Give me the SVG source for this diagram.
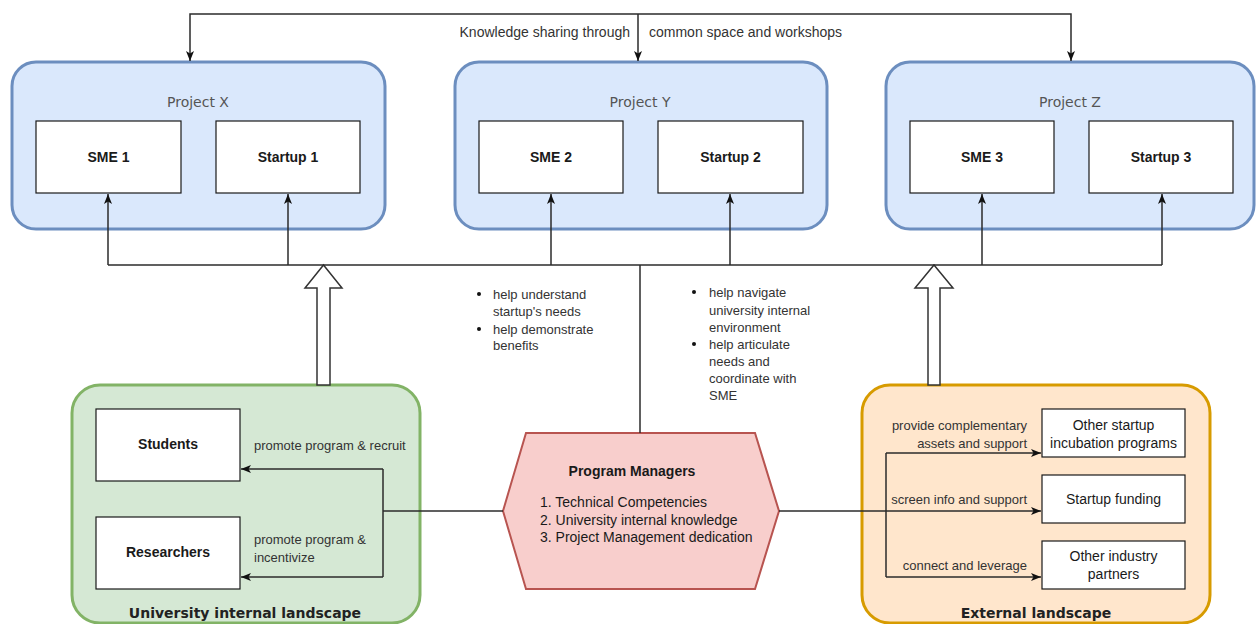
<svg xmlns="http://www.w3.org/2000/svg" width="1256" height="624" viewBox="0 0 1256 624">
  <style>
    .project { fill: #dae8fc; stroke: #6c8ebf; stroke-width: 3; }
    .box { fill: #ffffff; stroke: #1a1a1a; stroke-width: 1.2; }
    .green { fill: #d5e8d4; stroke: #82b366; stroke-width: 3; }
    .orange { fill: #ffe6cc; stroke: #d79b00; stroke-width: 3; }
    .hex { fill: #f8cecc; stroke: #b85450; stroke-width: 2; }
    .block { fill: #ffffff; stroke: #333333; stroke-width: 1.5; }
    .conn { fill: none; stroke: #2b2b2b; stroke-width: 1.5; }
    .ptitle { font-family: "DejaVu Sans", Verdana, sans-serif; font-size: 14px; fill: #555555; text-anchor: middle; }
    .ctitle { font-family: "DejaVu Sans", Verdana, sans-serif; font-size: 14px; font-weight: bold; fill: #222222; text-anchor: middle; }
    .bold { font-family: "Liberation Sans", Arial, sans-serif; font-size: 14px; font-weight: bold; fill: #1a1a1a; text-anchor: middle; }
    .reg { font-family: "Liberation Sans", Arial, sans-serif; font-size: 14px; fill: #1a1a1a; }
    .lbl { font-family: "Liberation Sans", Arial, sans-serif; font-size: 13px; fill: #333333; }
    .top { font-family: "Liberation Sans", Arial, sans-serif; font-size: 14px; fill: #333333; }
    .mid { text-anchor: middle; }
    .end { text-anchor: end; }
  </style>
  <defs>
    <marker id="arrow" markerUnits="userSpaceOnUse" markerWidth="10" markerHeight="10" viewBox="0 0 10 10" refX="10" refY="5" orient="auto">
      <path d="M0,1 L10,5 L0,9 L2.5,5 z" fill="#111111"/>
    </marker>
  </defs>

  <!-- project containers -->
  <g id="project-x">
    <rect class="project" x="12" y="62" width="373" height="167" rx="24"/>
    <text class="ptitle" x="198" y="107">Project X</text>
  </g>
  <g id="sme-1">
    <rect class="box" x="36" y="121" width="145" height="72"/>
    <text class="bold" x="108.5" y="162">SME 1</text>
  </g>
  <g id="startup-1">
    <rect class="box" x="216" y="121" width="144" height="72"/>
    <text class="bold" x="288" y="162">Startup 1</text>
  </g>

  <g id="project-y">
    <rect class="project" x="455" y="62" width="372" height="167" rx="24"/>
    <text class="ptitle" x="640" y="107">Project Y</text>
  </g>
  <g id="sme-2">
    <rect class="box" x="479" y="121" width="144" height="72"/>
    <text class="bold" x="551" y="162">SME 2</text>
  </g>
  <g id="startup-2">
    <rect class="box" x="658" y="121" width="145" height="72"/>
    <text class="bold" x="730.5" y="162">Startup 2</text>
  </g>

  <g id="project-z">
    <rect class="project" x="886" y="62" width="368" height="167" rx="24"/>
    <text class="ptitle" x="1070" y="107">Project Z</text>
  </g>
  <g id="sme-3">
    <rect class="box" x="910" y="121" width="144" height="72"/>
    <text class="bold" x="982" y="162">SME 3</text>
  </g>
  <g id="startup-3">
    <rect class="box" x="1089" y="121" width="144" height="72"/>
    <text class="bold" x="1161" y="162">Startup 3</text>
  </g>

  <!-- landscapes -->
  <g id="university-landscape">
    <rect class="green" x="72" y="385" width="348" height="238" rx="28"/>
    <text class="ctitle" x="245" y="618">University internal landscape</text>
  </g>
  <g id="students">
    <rect class="box" x="96" y="409" width="144" height="72"/>
    <text class="bold" x="168" y="449">Students</text>
  </g>
  <g id="researchers">
    <rect class="box" x="96" y="517" width="144" height="72"/>
    <text class="bold" x="168" y="557">Researchers</text>
  </g>

  <g id="external-landscape">
    <rect class="orange" x="862" y="385" width="348" height="238" rx="28"/>
    <text class="ctitle" x="1036" y="618">External landscape</text>
  </g>
  <g id="incubation">
    <rect class="box" x="1042" y="409" width="143" height="48"/>
    <text class="reg mid" x="1113.5" y="430">Other startup</text>
    <text class="reg mid" x="1113.5" y="448">incubation programs</text>
  </g>
  <g id="funding">
    <rect class="box" x="1042" y="475" width="143" height="48"/>
    <text class="reg mid" x="1113.5" y="504">Startup funding</text>
  </g>
  <g id="industry">
    <rect class="box" x="1042" y="541" width="143" height="48"/>
    <text class="reg mid" x="1113.5" y="561">Other industry</text>
    <text class="reg mid" x="1113.5" y="579">partners</text>
  </g>

  <!-- block arrows from the landscapes to the project bus -->
  <g id="block-arrows">
    <polygon class="block" points="317,385 317,288 305,288 323.5,265 342,288 330,288 330,385"/>
    <polygon class="block" points="928,385 928,288 915,288 934,265 953,288 940,288 940,385"/>
  </g>

  <!-- program managers -->
  <g id="program-managers">
    <polygon class="hex" points="526,433 755,433 779,511 755,589 526,589 503,511"/>
    <text class="bold" x="632" y="476">Program Managers</text>
    <text class="reg" x="540" y="507">1. Technical Competencies</text>
    <text class="reg" x="540" y="525">2. University internal knowledge</text>
    <text class="reg" x="540" y="542">3. Project Management dedication</text>
  </g>

  <!-- connectors -->
  <g id="connectors">
    <path class="conn" d="M638,14 H190 V61" marker-end="url(#arrow)"/>
    <path class="conn" d="M638,14 H1071 V61" marker-end="url(#arrow)"/>
    <path class="conn" d="M638,14 V61" marker-end="url(#arrow)"/>

    <path class="conn" d="M108,265 H1162"/>
    <path class="conn" d="M108,265 V194" marker-end="url(#arrow)"/>
    <path class="conn" d="M288,265 V194" marker-end="url(#arrow)"/>
    <path class="conn" d="M551,265 V194" marker-end="url(#arrow)"/>
    <path class="conn" d="M730,265 V194" marker-end="url(#arrow)"/>
    <path class="conn" d="M982,265 V194" marker-end="url(#arrow)"/>
    <path class="conn" d="M1162,265 V194" marker-end="url(#arrow)"/>
    <path class="conn" d="M640,265 V433"/>

    <path class="conn" d="M503,511 H383"/>
    <path class="conn" d="M383,469 V577"/>
    <path class="conn" d="M383,469 H241" marker-end="url(#arrow)"/>
    <path class="conn" d="M383,577 H241" marker-end="url(#arrow)"/>

    <path class="conn" d="M779,511 H1041" marker-end="url(#arrow)"/>
    <path class="conn" d="M886,453 V577"/>
    <path class="conn" d="M886,453 H1041" marker-end="url(#arrow)"/>
    <path class="conn" d="M886,577 H1041" marker-end="url(#arrow)"/>
  </g>

  <!-- connector labels -->
  <g id="labels">
    <text class="top end" x="630" y="37">Knowledge sharing through</text>
    <text class="top" x="649" y="37">common space and workshops</text>

    <circle cx="479" cy="294" r="2" fill="#111"/>
    <circle cx="479" cy="329" r="2" fill="#111"/>
    <text class="lbl" x="493" y="298.5">help understand</text>
    <text class="lbl" x="493" y="315.5">startup's needs</text>
    <text class="lbl" x="493" y="333.5">help demonstrate</text>
    <text class="lbl" x="493" y="350">benefits</text>

    <circle cx="694" cy="292" r="2" fill="#111"/>
    <circle cx="694" cy="344" r="2" fill="#111"/>
    <text class="lbl" x="709" y="296.5">help navigate</text>
    <text class="lbl" x="709" y="314.5">university internal</text>
    <text class="lbl" x="709" y="331.5">environment</text>
    <text class="lbl" x="709" y="348.5">help articulate</text>
    <text class="lbl" x="709" y="365.5">needs and</text>
    <text class="lbl" x="709" y="382.5">coordinate with</text>
    <text class="lbl" x="709" y="399.5">SME</text>

    <text class="lbl" x="254" y="449.5">promote program &amp; recruit</text>
    <text class="lbl" x="254" y="543.5">promote program &amp;</text>
    <text class="lbl" x="254" y="561.5">incentivize</text>

    <text class="lbl end" x="1027" y="429.5">provide complementary</text>
    <text class="lbl end" x="1027" y="447.5">assets and support</text>
    <text class="lbl end" x="1027" y="503.5">screen info and support</text>
    <text class="lbl end" x="1027" y="569.5">connect and leverage</text>
  </g>
</svg>
